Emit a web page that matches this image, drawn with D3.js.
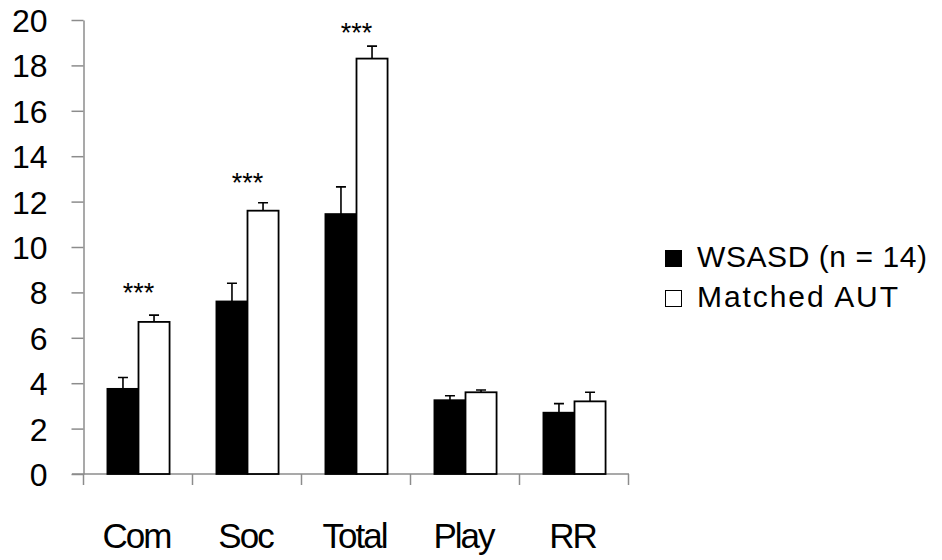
<!DOCTYPE html>
<html lang="en">

<head>
  <meta charset="utf-8">
  <title>WSASD vs Matched AUT</title>
  <script src="https://d3js.org/d3.v7.min.js"></script>
  <style>
    body { margin: 0; background: #fff; }
    text { font-family: "Liberation Sans", Arial, sans-serif; fill: #000; }
    .axis path, .axis line { stroke: #8c8c8c; stroke-width: 1.5px; }
  </style>
</head>

<body>
  <script>
    // data
    var categories = ["Com", "Soc", "Total", "Play", "RR"];
    var seriesNames = ["WSASD (n = 14)", "Matched AUT"];
    var wsasd = [3.75, 7.6, 11.45, 3.25, 2.7];
    var wsasdErr = [0.5, 0.8, 1.2, 0.2, 0.4];
    var aut = [6.7, 11.6, 18.3, 3.6, 3.2];
    var autErr = [0.3, 0.35, 0.55, 0.1, 0.4];
    var sigLabels = ["***", "***", "***", "", ""];
    var sigLevel = [8.25, 13.1, 19.7, 0, 0];
    var yTicks = [0, 2, 4, 6, 8, 10, 12, 14, 16, 18, 20];

    var w = 942, h = 560;
    var margin = {top: 20, right: 313, bottom: 86, left: 84};
    var innerW = w - margin.left - margin.right,
      innerH = h - margin.top - margin.bottom;

    var rows = categories.map(function(c, i) {
      return {cat: c, vals: [
        {s: 0, v: wsasd[i], e: wsasdErr[i]},
        {s: 1, v: aut[i], e: autErr[i]}
      ], sig: sigLabels[i], sigY: sigLevel[i]};
    });

    var x0 = d3.scaleBand()
      .domain(categories)
      .range([0, innerW])
      .paddingInner(0.43)
      .paddingOuter(0.215);
    var x1 = d3.scaleBand()
      .domain([0, 1])
      .range([0, x0.bandwidth()]);
    var y = d3.scaleLinear()
      .domain([0, 20])
      .range([innerH, 0]);
    var fills = ["#000", "#fff"];

    var svg = d3.select('body').append('svg')
        .attr('width', w)
        .attr('height', h)
      .append('g')
        .attr('transform', 'translate(' + [margin.left, margin.top] + ')');

    // y axis
    var yAxis = d3.axisLeft(y).tickValues(yTicks).tickSize(12).tickPadding(24).tickSizeOuter(0);
    var yg = svg.append('g')
      .attr('class', 'y axis')
      .attr('transform', 'translate(-0.5,0)')
      .call(yAxis);
    yg.selectAll('text')
      .style('font-size', '32px')
      .attr('dy', '0.36em');

    // x axis: ticks between categories like the original
    var xg = svg.append('g')
      .attr('class', 'x axis')
      .attr('transform', 'translate(0,' + innerH + ')');
    xg.append('line')
      .attr('x1', -12).attr('x2', innerW)
      .attr('y1', 0).attr('y2', 0);
    var step = x0.step();
    xg.selectAll('.sep')
      .data(d3.range(categories.length + 1))
      .enter().append('line')
      .attr('class', 'sep')
      .attr('x1', function(d) { return d * step - 0.5; })
      .attr('x2', function(d) { return d * step - 0.5; })
      .attr('y1', 0).attr('y2', 11);
    xg.selectAll('.lbl')
      .data(categories)
      .enter().append('text')
      .attr('class', 'lbl')
      .attr('x', function(d) { return x0(d) + x0.bandwidth() / 2 - 2; })
      .attr('y', 74)
      .attr('text-anchor', 'middle')
      .style('font-size', '35px')
      .style('letter-spacing', '-2px')
      .text(function(d) { return d; });

    // bars
    var groups = svg.selectAll('.grp')
      .data(rows)
      .enter().append('g')
      .attr('class', 'grp')
      .attr('transform', function(d) { return 'translate(' + x0(d.cat) + ',0)'; });

    groups.selectAll('rect')
      .data(function(d) { return d.vals; })
      .enter().append('rect')
      .attr('x', function(d) { return x1(d.s); })
      .attr('width', x1.bandwidth())
      .attr('y', function(d) { return y(d.v); })
      .attr('height', function(d) { return y(0) - y(d.v); })
      .attr('fill', function(d) { return fills[d.s]; })
      .attr('stroke', '#000')
      .attr('stroke-width', 1.8);

    // upper error bars
    groups.selectAll('.err')
      .data(function(d) { return d.vals; })
      .enter().append('path')
      .attr('class', 'err')
      .attr('fill', 'none')
      .attr('stroke', '#000')
      .attr('stroke-width', 1.6)
      .attr('d', function(d) {
        var cx = x1(d.s) + x1.bandwidth() / 2;
        return 'M' + cx + ',' + y(d.v) + 'V' + y(d.v + d.e) +
          'M' + (cx - 5) + ',' + y(d.v + d.e) + 'H' + (cx + 5);
      });

    // significance stars
    groups.filter(function(d) { return d.sig; })
      .append('text')
      .attr('x', x0.bandwidth() / 2)
      .attr('y', function(d) { return y(d.sigY) + 15; })
      .attr('text-anchor', 'middle')
      .style('font-size', '27px')
      .text(function(d) { return d.sig; });

    // legend
    var legendLen = [230, 201];
    var legend = svg.append('g')
      .attr('transform', 'translate(' + (665 - margin.left) + ',' + (250 - margin.top) + ')');
    var li = legend.selectAll('.li')
      .data(seriesNames)
      .enter().append('g')
      .attr('class', 'li')
      .attr('transform', function(d, i) { return 'translate(0,' + i * 40 + ')'; });
    li.append('rect')
      .attr('width', 16).attr('height', 16)
      .attr('x', 0.5).attr('y', 0.5)
      .attr('fill', function(d, i) { return fills[i]; })
      .attr('stroke', '#000')
      .attr('stroke-width', 1);
    li.append('text')
      .attr('x', 32)
      .attr('y', 17)
      .attr('textLength', function(d, i) { return legendLen[i]; })
      .attr('lengthAdjust', 'spacing')
      .style('font-size', '30px')
      .text(function(d) { return d; });
  </script>
</body>

</html>
